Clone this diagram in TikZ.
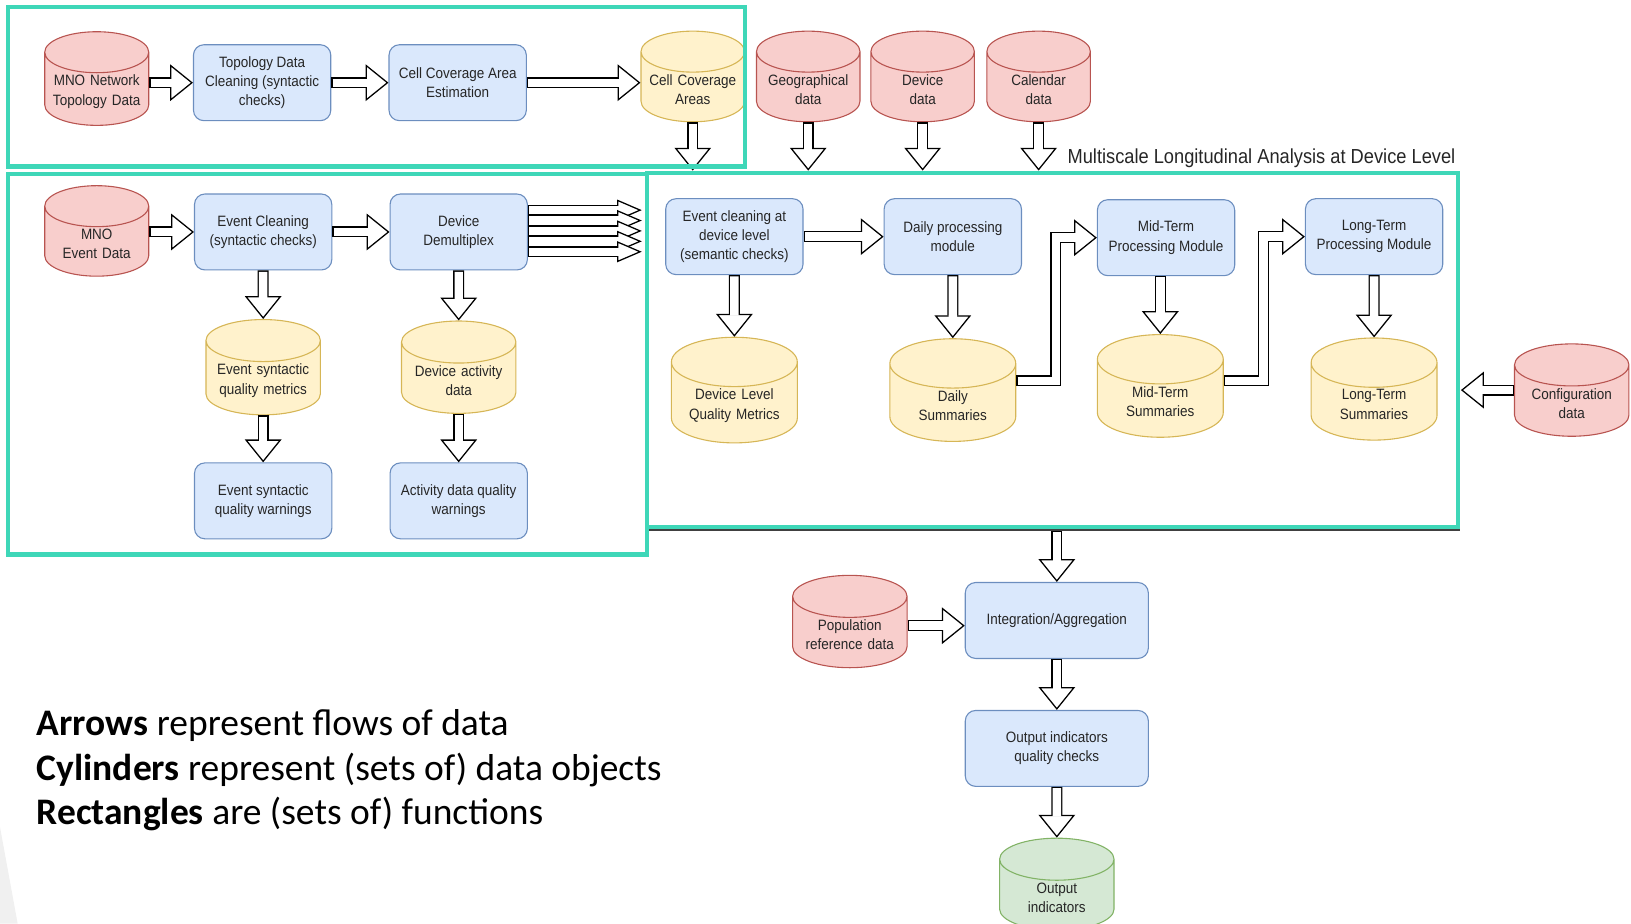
\documentclass[tikz,border=0pt]{standalone}
\usepackage{fontspec}
\setmainfont[FakeStretch=0.9]{Liberation Sans}
\newfontfamily\legendfont{Carlito}
\usetikzlibrary{shapes.geometric,arrows.meta,positioning,calc}

\definecolor{grpgreen}{RGB}{62,215,184}
\definecolor{redfill}{HTML}{F8CECC}
\definecolor{redline}{HTML}{B85450}
\definecolor{yelfill}{HTML}{FFF2CC}
\definecolor{yelline}{HTML}{D6B656}
\definecolor{bluefill}{HTML}{DAE8FC}
\definecolor{blueline}{HTML}{6C8EBF}
\definecolor{grnfill}{HTML}{D5E8D4}
\definecolor{grnline}{HTML}{82B366}

\begin{document}
\begin{tikzpicture}[x=0.2cm,y=-0.2cm]
  \tikzstyle{txt}=[font=\fontsize{8.2}{10.6}\selectfont, text=black!85, align=center]
  \tikzstyle{func}=[txt,rectangle,rounded corners=0.2cm,draw=blueline,fill=bluefill,line width=0.6pt,minimum width=2.64cm,minimum height=1.46cm,inner sep=1pt]
  \tikzstyle{widefunc}=[func,minimum width=3.52cm]
  \tikzstyle{cyl}=[txt,cylinder,shape border rotate=90,aspect=0.4,cylinder uses custom fill,anchor=shape center,line width=0.6pt,inner sep=1pt]
  \tikzstyle{smallcyl}=[cyl,text width=1.9cm,minimum width=1.99cm,minimum height=1.74cm]
  \tikzstyle{midcyl}=[cyl,text width=1.95cm,minimum width=2.2cm,minimum height=1.72cm]
  \tikzstyle{bigcyl}=[cyl,text width=2.3cm,minimum width=2.42cm,minimum height=1.96cm]
  \tikzstyle{redcyl}=[draw=redline,cylinder body fill=redfill,cylinder end fill=redfill]
  \tikzstyle{yelcyl}=[draw=yelline,cylinder body fill=yelfill,cylinder end fill=yelfill]
  \tikzstyle{grncyl}=[draw=grnline,cylinder body fill=grnfill,cylinder end fill=grnfill]
  \tikzstyle{flow}=[draw=black,line width=6pt,line join=miter,-{Triangle[length=12.5pt 0 0,width=20pt 0 0,line width=0.7pt,fill=white]},postaction={draw=white,line width=4.6pt,arrows=-,shorten >=11.5pt,shorten <=0.7pt}]
  \tikzstyle{bundle}=[draw=black,line width=6pt,-{Triangle[length=13.5pt 0 0,width=11.4pt 0 0,line width=0.7pt,fill=white]},postaction={draw=white,line width=4.6pt,arrows=-,shorten >=12.5pt,shorten <=0.7pt}]
  \tikzstyle{group}=[draw=grpgreen,line width=2.3pt]

  \useasboundingbox (0,0) rectangle (156.8,88.8);
  \fill[gray!12] (0,79.5) -- (1.7,88.8) -- (0,88.8) -- cycle;

  % topology part
  \coordinate (top) at (0,0);
  \draw (top)++(9.3,7.55) node[smallcyl,redcyl,minimum width=2cm] (topo){MNO Network\\Topology Data};
  \draw (top)++(25.2,7.95) node[func] (tdc){Topology Data\\Cleaning (syntactic\\checks)};
  \draw (top)++(44.0,7.95) node[func] (cca){Cell Coverage Area\\Estimation};
  \draw (top)++(66.6,7.35) node[smallcyl,yelcyl] (cov){Cell Coverage\\Areas};

  \draw (top)++(77.7,7.35) node[smallcyl,redcyl] (geo){Geographical\\data};
  \draw (top)++(88.7,7.35) node[smallcyl,redcyl] (dev){Device\\data};
  \draw (top)++(99.85,7.35) node[smallcyl,redcyl] (cal){Calendar\\data};

  % event part
  \coordinate (low) at (0,16);
  \draw (low)++(9.3,6.2) node[smallcyl,redcyl,minimum width=2cm] (mno){MNO\\Event Data};
  \draw (low)++(25.3,6.3) node[func] (ecl){Event Cleaning\\(syntactic checks)};
  \draw (low)++(44.1,6.3) node[func] (demux){Device\\Demultiplex};
  \draw (low)++(25.3,19.3) node[midcyl,yelcyl] (esqm){Event syntactic\\quality metrics};
  \draw (low)++(44.1,19.3) node[midcyl,yelcyl] (dact){Device activity\\data};
  \draw (low)++(25.3,32.15) node[func] (esqw){Event syntactic\\quality warnings};
  \draw (low)++(44.1,32.15) node[func] (adqw){Activity data quality\\warnings};

  % device level part
  \draw (low)++(70.6,6.75) node[func] (ecd){Event cleaning at\\device level\\(semantic checks)};
  \draw (low)++(91.6,6.75) node[func] (dpm){Daily processing\\module};
  \draw (low)++(112.1,6.85) node[func] (mtp){Mid-Term\\Processing Module};
  \draw (low)++(132.1,6.75) node[func] (ltp){Long-Term\\Processing Module};
  \draw (low)++(70.6,21.5) node[bigcyl,yelcyl] (dlqm){Device Level\\Quality Metrics};
  \draw (low)++(91.6,21.5) node[bigcyl,yelcyl] (dsum){Daily\\Summaries};
  \draw (low)++(111.55,21.1) node[bigcyl,yelcyl] (msum){Mid-Term\\Summaries};
  \draw (low)++(132.1,21.4) node[bigcyl,yelcyl] (lsum){Long-Term\\Summaries};
  \draw (low)++(151.1,21.5) node[midcyl,redcyl] (conf){Configuration\\data};

  % output part
  \draw (low)++(101.6,43.65) node[widefunc] (integ){Integration/Aggregation};
  \draw (low)++(81.7,43.75) node[midcyl,redcyl,minimum height=1.7cm] (pop){Population\\reference data};
  \draw (low)++(101.6,55.95) node[func,minimum width=3.52cm] (oqc){Output indicators\\quality checks};
  \draw (low)++(101.6,69.0) node[midcyl,grncyl,minimum height=1.72cm] (outi){Output\\indicators};

  \coordinate (rtop) at (62.2,16.4);
  \coordinate (lright) at (61.7,22.2);
  \coordinate (rright) at (140.45,37.7);
  \coordinate (rbot) at (101.6,51.0);

  \draw[flow] (topo.east |- tdc.west) -- (tdc.west);
  \draw[flow] (tdc.east) -- (cca.west);
  \draw[flow] (cca.east) -- (cca.east -| cov.west);
  \draw[flow] (cov.south) -- (cov.south |- rtop);
  \draw[flow] (geo.south) -- (geo.south |- rtop);
  \draw[flow] (dev.south) -- (dev.south |- rtop);
  \draw[flow] (cal.south) -- (cal.south |- rtop);

  \draw[flow] (mno.east |- ecl.west) -- (ecl.west);
  \draw[flow] (ecl.east) -- (demux.west);
  \draw[flow] (ecl.south) -- (esqm.north);
  \draw[flow] (esqm.south) -- (esqw.north);
  \draw[flow] (demux.south) -- (dact.north);
  \draw[flow] (dact.south) -- (adqw.north);
  \foreach \y in {20.2,21.2,22.2,23.2,24.2}
    \draw[bundle] (demux.east |- 0,\y) -- (lright |- 0,\y);

  \draw[flow] (ecd.east) -- (dpm.west);
  \draw[flow] (ecd.south) -- (dlqm.north);
  \draw[flow] (dpm.south) -- (dsum.north);
  \draw[flow] (msum.north |- mtp.south) -- (msum.north);
  \draw[flow] (ltp.south) -- (lsum.north);
  \draw[flow] ($(dsum.shape center -| dsum.east)+(0,-0.9)$) -- ++(3.8,0) |- (mtp.west);
  \draw[flow] ($(msum.shape center -| msum.east)+(0,-0.5)$) -- ++(3.8,0) |- (ltp.west);
  \draw[flow] (conf.shape center -| conf.west) -- (conf.shape center -| rright);

  \draw[flow] (rbot) -- (integ.north);
  \draw[flow] ($(pop.shape center -| pop.east)+(0,0.4)$) -- ($(pop.shape center -| integ.west)+(0,0.4)$);
  \draw[flow] (integ.south) -- (oqc.north);
  \draw[flow] (oqc.south) -- (outi.north);

  % group frames
  \draw[line width=0.6pt,black!75] (62.2,50.95) -- (140.35,50.95);
  \draw[group] (0.8,0.7) rectangle (71.6,16.0);
  \draw[group] (0.8,16.7) rectangle (62.2,53.3);
  \draw[group] (62.2,16.6) rectangle (140.2,50.7);
  \node[anchor=west,font=\fontsize{11.1}{13}\selectfont,text=black!85,inner sep=0pt] (msl) at (102.6,15.2) {Multiscale Longitudinal Analysis at Device Level};

  \node[anchor=west,align=left,inner sep=0pt,font=\legendfont\fontsize{20.5}{24.4}\selectfont] (legend) at (3.5,74.05)
    {\textbf{Arrows} represent flows of data\\\textbf{Cylinders} represent (sets of) data objects\\\textbf{Rectangles} are (sets of) functions};
\end{tikzpicture}
\end{document}
